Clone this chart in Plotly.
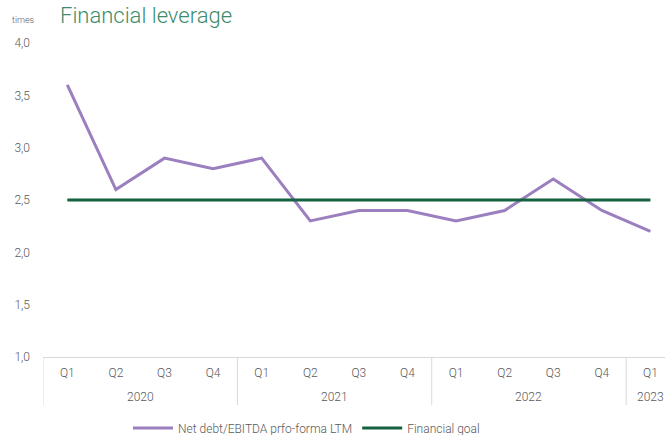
import plotly.graph_objects as go

years = ["2020"]*4 + ["2021"]*4 + ["2022"]*4 + ["2023"]
quarters = ["Q1","Q2","Q3","Q4"]*3 + ["Q1"]
net_debt = [3.6, 2.6, 2.9, 2.8, 2.9, 2.3, 2.4, 2.4, 2.3, 2.4, 2.7, 2.4, 2.2]
goal = [2.5]*13

idx = list(range(len(quarters)))
TXT = "#595959"
FONT = "Roboto"

fig = go.Figure()
fig.add_trace(go.Scatter(x=idx, y=net_debt, mode="lines",
                         name="Net debt/EBITDA prfo-forma LTM",
                         line=dict(color="#9b7fbf", width=3)))
fig.add_trace(go.Scatter(x=idx, y=goal, mode="lines",
                         name="Financial goal",
                         line=dict(color="#14623f", width=3)))

top, bottom = 43, 357
ph = bottom - top
pw = 665 - 43

def py(ypix):
    return (bottom - ypix) / ph

annotations = [dict(text="times", x=(10 - 43) / pw, y=py(20), xref="paper", yref="paper",
                    showarrow=False, xanchor="left", yanchor="middle",
                    font=dict(size=9, color=TXT, family=FONT, weight=300))]
shapes = []
uniq = []
for y in years:
    if y not in uniq:
        uniq.append(y)
for y in uniq:
    ids = [i for i, yy in enumerate(years) if yy == y]
    annotations.append(dict(text=y, x=sum(ids) / len(ids), y=py(397), xref="x", yref="paper",
                            showarrow=False, xanchor="center", yanchor="middle",
                            font=dict(size=12, color=TXT, family=FONT, weight=300)))
    shapes.append(dict(type="line", x0=ids[0] - 0.5, x1=ids[0] - 0.5, y0=0, y1=py(405),
                       xref="x", yref="paper", line=dict(color="#d9d9d9", width=1)))

fig.update_layout(
    width=665, height=435,
    margin=dict(l=43, r=0, t=top, b=435 - bottom, autoexpand=False),
    paper_bgcolor="white", plot_bgcolor="white",
    separators=",.",
    font=dict(family=FONT, color=TXT, size=12, weight=300),
    showlegend=True,
    legend=dict(orientation="h", x=(128 - 43) / pw, xanchor="left", y=py(428), yanchor="middle",
                font=dict(size=12, color=TXT, family=FONT, weight=300), itemwidth=40,
                tracegroupgap=0),
    title=dict(text="Financial leverage", x=60/665, xanchor="left", y=1-15/435, yanchor="middle",
               font=dict(size=22, color="#3d8c6c", family=FONT, weight=300)),
    annotations=annotations,
    shapes=shapes,
)
fig.update_xaxes(range=[-0.5, 12.3], showline=True, linecolor="#d9d9d9",
                 tickvals=idx, ticktext=quarters, showgrid=False, zeroline=False,
                 tickfont=dict(size=12, color=TXT, family=FONT, weight=300), ticks="",
                 ticklabelstandoff=5, automargin=False)
fig.update_yaxes(range=[1.0, 4.0], dtick=0.5, tickformat=".1f", showgrid=False, zeroline=False,
                 showline=False, tickfont=dict(size=12, color=TXT, family=FONT, weight=300),
                 ticklabelstandoff=12, automargin=False)
fig.write_html("out.html")
